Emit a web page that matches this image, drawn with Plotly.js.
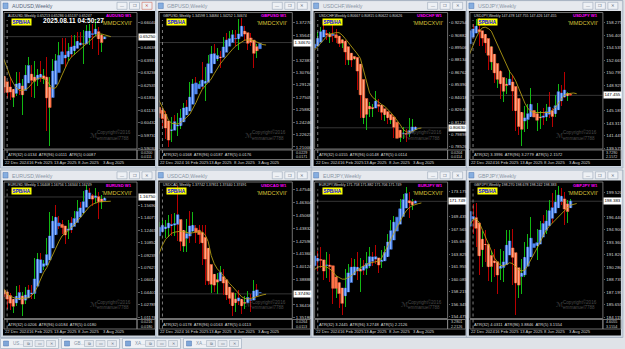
<!DOCTYPE html>
<html><head><meta charset="utf-8">
<script src="https://cdn.plot.ly/plotly-3.0.1.min.js"></script>
<style>html,body{margin:0;padding:0;background:#dfe3e8;overflow:hidden}#chart{width:625px;height:349px}</style>
</head><body><div id="chart"></div><script>
// ---------- categories ----------
const weeks = ["2024-12-15","2024-12-22","2024-12-29","2025-01-05","2025-01-12","2025-01-19","2025-01-26","2025-02-02","2025-02-09","2025-02-16","2025-02-23","2025-03-02","2025-03-09","2025-03-16","2025-03-23","2025-03-30","2025-04-06","2025-04-13","2025-04-20","2025-04-27","2025-05-04","2025-05-11","2025-05-18","2025-05-25","2025-06-01","2025-06-08","2025-06-15","2025-06-22","2025-06-29","2025-07-06","2025-07-13","2025-07-20","2025-07-27","2025-08-03","2025-08-10"];
const maWeeks = ["2024-12-15","2024-12-22","2024-12-29","2025-01-05","2025-01-12","2025-01-19","2025-01-26","2025-02-02","2025-02-09","2025-02-16","2025-02-23","2025-03-02","2025-03-09","2025-03-16","2025-03-23","2025-03-30","2025-04-06","2025-04-13","2025-04-20","2025-04-27","2025-05-04","2025-05-11","2025-05-18","2025-05-25","2025-06-01","2025-06-08","2025-06-15","2025-06-22","2025-06-29","2025-07-06","2025-07-13","2025-07-20","2025-07-27","2025-08-03","2025-08-10","2025-08-17","2025-08-24"];
const dateLabelWeeks = ["2024-12-22","2025-02-16","2025-04-13","2025-06-08","2025-08-03"];
const dateLabels = ["22 Dec 2024","16 Feb 2025","13 Apr 2025","8 Jun 2025","3 Aug 2025"];
const separatorWeek = "2024-12-29";

// ---------- AUDUSD ----------
const audusdOpen  = [0.6365,0.6255,0.6220,0.6215,0.6180,0.6205,0.6310,0.6150,0.6275,0.6355,0.6360,0.6210,0.6320,0.6320,0.6275,0.6285,0.6020,0.6285,0.6385,0.6400,0.6445,0.6410,0.6405,0.6485,0.6435,0.6495,0.6490,0.6450,0.6555,0.6560,0.6585,0.6530,0.6580,0.6465,0.6521];
const audusdHigh  = [0.6380,0.6290,0.6240,0.6300,0.6230,0.6330,0.6330,0.6290,0.6365,0.6409,0.6365,0.6390,0.6345,0.6390,0.6345,0.6409,0.6300,0.6400,0.6430,0.6495,0.6515,0.6515,0.6490,0.6537,0.6535,0.6552,0.6550,0.6560,0.6590,0.6595,0.6595,0.6625,0.6580,0.6540,0.6529];
const audusdLow   = [0.6180,0.6210,0.6180,0.6170,0.6131,0.6195,0.6200,0.6088,0.6240,0.6330,0.6190,0.6185,0.6250,0.6270,0.6260,0.6000,0.5914,0.6260,0.6345,0.6340,0.6390,0.6355,0.6390,0.6410,0.6425,0.6455,0.6470,0.6370,0.6515,0.6480,0.6455,0.6530,0.6420,0.6440,0.6514];
const audusdClose = [0.6255,0.6220,0.6215,0.6180,0.6205,0.6310,0.6215,0.6275,0.6355,0.6360,0.6210,0.6320,0.6320,0.6275,0.6285,0.6040,0.6285,0.6385,0.6400,0.6445,0.6410,0.6405,0.6485,0.6435,0.6495,0.6490,0.6450,0.6555,0.6560,0.6585,0.6530,0.6580,0.6475,0.6525,0.6525];
const audusdMA    = [0.6440,0.6400,0.6350,0.6300,0.6265,0.6240,0.6225,0.6225,0.6230,0.6240,0.6260,0.6280,0.6290,0.6295,0.6290,0.6280,0.6255,0.6235,0.6240,0.6270,0.6310,0.6350,0.6385,0.6410,0.6425,0.6440,0.6455,0.6470,0.6490,0.6505,0.6520,0.6530,0.6540,0.6540,0.6535,0.6530,0.6525];
const audusdTicks = [0.59030,0.59731,0.60432,0.61133,0.61834,0.62535,0.63236,0.63937,0.64638,0.65339,0.66040];

// ---------- GBPUSD ----------
const gbpusdOpen  = [1.2685,1.2570,1.2515,1.2420,1.2205,1.2170,1.2480,1.2330,1.2405,1.2580,1.2630,1.2575,1.2915,1.2935,1.2915,1.2940,1.2890,1.3085,1.3290,1.3310,1.3270,1.3300,1.3280,1.3530,1.3460,1.3570,1.3570,1.3455,1.3715,1.3650,1.3495,1.3440,1.3435,1.3280,1.3460];
const gbpusdHigh  = [1.2700,1.2610,1.2610,1.2575,1.2290,1.2490,1.2520,1.2550,1.2600,1.2670,1.2715,1.2945,1.2990,1.3015,1.2965,1.3207,1.3150,1.3300,1.3425,1.3445,1.3400,1.3360,1.3545,1.3595,1.3615,1.3632,1.3630,1.3770,1.3788,1.3680,1.3530,1.3590,1.3450,1.3450,1.3468];
const gbpusdLow   = [1.2475,1.2475,1.2350,1.2200,1.2100,1.2160,1.2330,1.2250,1.2330,1.2560,1.2560,1.2570,1.2860,1.2890,1.2860,1.2860,1.2708,1.3080,1.3235,1.3260,1.3220,1.3140,1.3275,1.3410,1.3425,1.3500,1.3420,1.3370,1.3565,1.3490,1.3365,1.3420,1.3140,1.3270,1.3425];
const gbpusdClose = [1.2570,1.2515,1.2420,1.2205,1.2170,1.2480,1.2395,1.2405,1.2580,1.2630,1.2575,1.2915,1.2935,1.2915,1.2940,1.2890,1.3085,1.3290,1.3310,1.3270,1.3300,1.3280,1.3530,1.3460,1.3570,1.3570,1.3455,1.3715,1.3650,1.3495,1.3440,1.3435,1.3280,1.3445,1.3467];
const gbpusdMA    = [1.2760,1.2700,1.2620,1.2530,1.2450,1.2410,1.2400,1.2400,1.2420,1.2450,1.2490,1.2530,1.2600,1.2680,1.2770,1.2850,1.2900,1.2940,1.2990,1.3060,1.3130,1.3190,1.3240,1.3290,1.3330,1.3380,1.3420,1.3450,1.3480,1.3500,1.3500,1.3500,1.3490,1.3470,1.3460,1.3440,1.3435];
const gbpusdTicks = [1.21000,1.22623,1.24246,1.25882,1.27505,1.29128,1.30764,1.32387,1.34011,1.35647,1.37270];

// ---------- USDCHF ----------
const usdchfOpen  = [0.8930,0.8960,0.9000,0.9110,0.9160,0.9140,0.9050,0.9110,0.9080,0.9000,0.8980,0.9020,0.8800,0.8845,0.8825,0.8825,0.8610,0.8175,0.8185,0.8280,0.8285,0.8310,0.8340,0.8245,0.8225,0.8225,0.8135,0.8165,0.7970,0.7955,0.7970,0.8035,0.7965,0.8040,0.8066];
const usdchfHigh  = [0.9000,0.9030,0.9120,0.9180,0.9200,0.9150,0.9120,0.9195,0.9160,0.9045,0.9050,0.9030,0.8855,0.8850,0.8855,0.8850,0.8760,0.8245,0.8345,0.8350,0.8330,0.8475,0.8385,0.8320,0.8250,0.8245,0.8200,0.8195,0.7990,0.7990,0.8075,0.8055,0.8170,0.8165,0.8082];
const usdchfLow   = [0.8895,0.8960,0.8975,0.9050,0.9080,0.9030,0.9000,0.9010,0.9000,0.8960,0.8950,0.8760,0.8760,0.8735,0.8810,0.8480,0.8170,0.8100,0.8040,0.8180,0.8180,0.8300,0.8240,0.8150,0.8140,0.8100,0.8110,0.7950,0.7872,0.7910,0.7935,0.7910,0.7960,0.8015,0.8062];
const usdchfClose = [0.8960,0.9000,0.9110,0.9160,0.9140,0.9050,0.9110,0.9080,0.9000,0.8980,0.9020,0.8800,0.8845,0.8825,0.8825,0.8610,0.8175,0.8185,0.8280,0.8285,0.8310,0.8340,0.8245,0.8225,0.8225,0.8135,0.8165,0.7970,0.7955,0.7970,0.8035,0.7965,0.8040,0.8065,0.8063];
const usdchfMA    = [0.8890,0.8920,0.8960,0.9000,0.9040,0.9075,0.9100,0.9110,0.9115,0.9115,0.9090,0.9050,0.9010,0.8970,0.8930,0.8880,0.8830,0.8700,0.8560,0.8450,0.8400,0.8370,0.8340,0.8320,0.8300,0.8270,0.8230,0.8190,0.8150,0.8100,0.8045,0.8020,0.8010,0.8020,0.8040,0.8055,0.8060];
const usdchfTicks = [0.78526,0.79898,0.81270,0.82646,0.84018,0.85390,0.86762,0.88134,0.89506,0.90882,0.92254];

// ---------- USDJPY ----------
const usdjpyOpen  = [153.6,156.4,157.8,157.3,157.7,156.3,156.0,155.2,151.4,152.3,149.3,150.6,148.0,148.6,149.3,149.8,146.9,143.5,142.2,143.6,144.9,145.4,145.7,142.6,144.0,144.9,144.1,146.1,144.6,144.5,147.4,148.6,147.6,147.4,147.478];
const usdjpyHigh  = [157.9,158.1,158.0,158.88,158.9,156.8,156.3,155.9,154.8,152.4,150.9,151.3,149.2,150.1,151.2,150.5,148.3,144.0,143.9,145.9,146.2,148.6,146.2,146.3,145.2,145.5,146.2,148.0,145.5,147.5,149.2,149.0,150.9,148.0,147.755];
const usdjpyLow   = [153.3,156.0,156.2,157.0,154.8,154.8,153.7,151.2,151.3,149.3,148.6,146.9,146.5,147.7,149.1,145.2,142.1,141.6,139.88,142.0,142.4,144.7,142.4,142.1,142.4,143.0,143.7,144.1,142.7,144.2,146.8,145.9,147.0,146.6,147.426];
const usdjpyClose = [156.4,157.8,157.3,157.7,156.3,156.0,155.2,151.4,152.3,149.3,150.6,148.0,148.6,149.3,149.8,146.9,143.5,142.2,143.6,144.9,145.4,145.7,142.6,144.0,144.9,144.1,146.1,144.6,144.5,147.4,148.6,147.6,147.4,147.7,147.455];
const usdjpyMA    = [152.6,153.8,155.0,156.0,156.9,157.5,157.6,157.4,157.0,156.0,155.0,154.0,152.9,152.0,151.0,150.4,149.6,148.5,147.4,146.3,145.5,145.1,144.9,144.9,144.9,144.8,144.8,144.9,145.2,145.6,146.3,147.0,147.5,147.7,147.8,147.8,147.7];
const usdjpyTicks = [139.575,141.445,143.315,145.185,147.055,148.925,150.795,152.665,154.535,156.405,158.275];

// ---------- EURUSD ----------
const eurusdOpen  = [1.0500,1.0430,1.0425,1.0310,1.0245,1.0270,1.0495,1.0245,1.0330,1.0490,1.0460,1.0375,1.0835,1.0880,1.0815,1.0830,1.0960,1.1360,1.1395,1.1365,1.1300,1.1250,1.1165,1.1365,1.1350,1.1395,1.1550,1.1520,1.1720,1.1780,1.1690,1.1625,1.1740,1.1590,1.1641];
const eurusdHigh  = [1.0630,1.0445,1.0455,1.0435,1.0350,1.0520,1.0530,1.0440,1.0515,1.0530,1.0530,1.0885,1.0947,1.0955,1.0860,1.1145,1.1475,1.1425,1.1573,1.1425,1.1380,1.1265,1.1375,1.1420,1.1495,1.1630,1.1615,1.1755,1.1830,1.1790,1.1720,1.1790,1.1745,1.1700,1.1676];
const eurusdLow   = [1.0345,1.0375,1.0225,1.0215,1.0178,1.0265,1.0360,1.0141,1.0285,1.0400,1.0360,1.0360,1.0805,1.0795,1.0735,1.0780,1.0880,1.1265,1.1310,1.1265,1.1195,1.1065,1.1135,1.1210,1.1345,1.1370,1.1445,1.1455,1.1715,1.1650,1.1555,1.1600,1.1390,1.1525,1.1634];
const eurusdClose = [1.0430,1.0425,1.0310,1.0245,1.0270,1.0495,1.0365,1.0330,1.0490,1.0460,1.0375,1.0835,1.0880,1.0815,1.0830,1.0960,1.1360,1.1395,1.1365,1.1300,1.1250,1.1165,1.1365,1.1350,1.1395,1.1550,1.1520,1.1720,1.1780,1.1690,1.1625,1.1740,1.1590,1.1640,1.1675];
const eurusdMA    = [1.0540,1.0480,1.0420,1.0390,1.0370,1.0360,1.0360,1.0365,1.0370,1.0370,1.0400,1.0440,1.0520,1.0620,1.0700,1.0760,1.0850,1.0940,1.1030,1.1100,1.1170,1.1200,1.1240,1.1280,1.1310,1.1360,1.1410,1.1460,1.1510,1.1550,1.1580,1.1600,1.1610,1.1615,1.1615,1.1615,1.1620];
const eurusdTicks = [1.01176,1.02789,1.04401,1.06014,1.07627,1.09239,1.10852,1.12465,1.14077,1.15690,1.17303];

// ---------- USDCAD ----------
const usdcadOpen  = [1.4235,1.4365,1.4410,1.4410,1.4415,1.4495,1.4350,1.4700,1.4300,1.4185,1.4235,1.4465,1.4370,1.4385,1.4335,1.4305,1.4225,1.3870,1.3840,1.3865,1.3810,1.3935,1.3960,1.3735,1.3730,1.3680,1.3595,1.3735,1.3675,1.3625,1.3680,1.3740,1.3705,1.3830,1.3774];
const usdcadHigh  = [1.4465,1.4440,1.4460,1.4465,1.4515,1.4520,1.4530,1.4793,1.4380,1.4275,1.4470,1.4545,1.4540,1.4415,1.4415,1.4415,1.4415,1.3960,1.3905,1.3895,1.3955,1.4015,1.3990,1.3815,1.3765,1.3730,1.3755,1.3790,1.3685,1.3730,1.3775,1.3745,1.3880,1.3845,1.3781];
const usdcadLow   = [1.4220,1.4350,1.4360,1.4290,1.4300,1.4310,1.4305,1.4260,1.4160,1.4150,1.4150,1.4240,1.4345,1.4240,1.4235,1.4030,1.3835,1.3830,1.3760,1.3765,1.3750,1.3915,1.3735,1.3685,1.3650,1.3540,1.3575,1.3640,1.3555,1.3600,1.3660,1.3575,1.3690,1.3720,1.3744];
const usdcadClose = [1.4365,1.4410,1.4410,1.4415,1.4495,1.4350,1.4525,1.4300,1.4185,1.4235,1.4465,1.4370,1.4385,1.4335,1.4305,1.4225,1.3870,1.3840,1.3865,1.3810,1.3935,1.3960,1.3735,1.3730,1.3680,1.3595,1.3735,1.3675,1.3625,1.3680,1.3740,1.3705,1.3830,1.3755,1.3749];
const usdcadMA    = [1.4070,1.4150,1.4220,1.4275,1.4310,1.4335,1.4345,1.4350,1.4355,1.4350,1.4345,1.4335,1.4340,1.4345,1.4350,1.4345,1.4320,1.4255,1.4120,1.4040,1.3990,1.3960,1.3920,1.3880,1.3850,1.3820,1.3790,1.3750,1.3720,1.3705,1.3700,1.3705,1.3715,1.3725,1.3735,1.3740,1.3745];
const usdcadTicks = [1.35180,1.36416,1.37652,1.38888,1.40124,1.41360,1.42596,1.43832,1.45068,1.46304,1.47540];

// ---------- EURJPY ----------
const eurjpyOpen  = [161.0,163.1,164.0,163.2,161.8,160.9,163.6,160.0,157.6,159.5,156.8,156.5,161.0,161.8,161.5,162.3,161.0,162.8,161.6,163.2,163.9,163.6,162.7,162.0,163.5,165.1,166.4,168.1,169.4,169.5,171.9,172.6,173.1,170.6,171.758];
const eurjpyHigh  = [164.1,164.5,164.3,164.9,162.7,164.1,163.9,160.9,160.6,159.7,157.8,161.6,162.4,163.2,163.1,164.2,163.2,163.0,164.2,164.9,164.2,165.2,163.2,164.5,165.1,166.8,169.0,169.6,170.6,172.1,172.9,173.9,173.2,172.1,171.882];
const eurjpyLow   = [160.6,162.7,161.3,161.8,159.9,160.3,159.6,156.4,157.2,155.8,154.8,155.9,158.9,161.0,160.8,159.9,158.2,160.7,160.7,161.8,162.0,162.3,161.0,161.7,162.8,164.3,165.9,167.4,168.0,169.0,170.6,172.0,169.3,170.4,171.706];
const eurjpyClose = [163.1,164.0,163.2,161.8,160.9,163.6,160.9,157.6,159.5,156.8,156.5,161.0,161.8,161.5,162.3,161.0,162.8,161.6,163.2,163.9,163.6,162.7,162.0,163.5,165.1,166.4,168.1,169.4,169.5,171.9,172.6,173.1,170.6,171.9,171.749];
const eurjpyMA    = [161.2,161.6,161.9,162.0,162.0,161.9,161.6,161.2,160.6,160.3,160.1,160.1,160.3,160.6,161.0,161.5,161.8,162.1,162.3,162.5,162.6,162.7,162.8,163.3,164.1,165.1,166.1,167.0,167.9,168.8,169.6,170.3,170.8,171.1,171.3,171.4,171.5];
const eurjpyTicks = [154.475,156.345,158.215,160.085,161.955,163.825,165.695,167.565,169.435,171.305,173.175];

// ---------- GBPJPY ----------
const gbpjpyOpen  = [193.7,196.7,197.5,196.2,193.0,190.5,194.2,191.0,188.8,191.9,189.9,189.5,190.7,192.2,193.0,193.6,189.4,187.9,188.7,191.0,192.3,193.3,193.5,192.9,194.0,195.9,195.4,196.6,198.1,197.1,199.1,199.4,198.6,196.1,198.270];
const gbpjpyHigh  = [198.0,198.3,198.0,198.2,193.9,194.7,194.8,193.0,192.3,192.5,190.8,192.5,192.3,194.8,194.8,194.9,191.6,189.2,191.3,193.4,194.3,196.4,194.1,195.0,195.9,196.7,197.3,198.5,199.4,199.8,200.2,200.0,199.5,198.5,198.678];
const gbpjpyLow   = [193.3,196.0,194.3,192.8,189.3,190.3,190.9,188.5,188.4,189.0,187.0,188.7,188.4,191.8,192.5,188.0,184.4,186.4,187.0,189.1,191.0,192.1,192.1,191.2,193.5,194.5,194.4,195.6,195.7,197.0,197.8,197.9,195.5,195.7,198.242];
const gbpjpyClose = [196.7,197.5,196.2,193.0,190.5,194.2,192.3,188.8,191.9,189.9,189.5,190.7,192.2,193.0,193.6,189.4,187.9,188.7,191.0,192.3,193.3,193.5,192.9,194.0,195.9,195.4,196.6,198.1,197.1,199.1,199.4,198.6,196.1,198.2,198.383];
const gbpjpyMA    = [194.5,195.5,196.1,196.2,195.8,194.9,194.0,193.0,192.2,191.4,190.9,190.5,190.4,190.6,190.8,190.7,190.3,189.9,189.8,189.9,190.5,191.2,191.8,192.5,193.3,194.1,194.8,195.3,195.7,196.0,196.4,196.9,197.3,197.6,197.9,198.0,198.1];
const gbpjpyTicks = [184.115,185.655,187.195,188.735,190.280,191.820,193.360,194.900,196.440,197.980,199.520];

// ---------- texts ----------
const symbols = ["AUDUSD","GBPUSD","USDCHF","USDJPY","EURUSD","USDCAD","EURJPY","GBPJPY"];
const headerPrices = ["0.65213 0.65286 0.65137 0.65247","1.34598 1.34684 1.34252 1.34674","0.80667 0.80815 0.80622 0.80626","147.478 147.755 147.426 147.455","1.16408 1.16756 1.16344 1.16749","1.37742 1.37811 1.37440 1.37491","171.758 171.882 171.706 171.749","198.270 198.678 198.242 198.383"];
const atrTexts = ["ATR(32) 0.0134  ATR(96) 0.0111  ATR(5) 0.0087","ATR(32) 0.0168  ATR(96) 0.0187  ATR(5) 0.0176","ATR(32) 0.0155  ATR(96) 0.0148  ATR(5) 0.0114","ATR(32) 3.3996  ATR(96) 3.2779  ATR(5) 2.1572","ATR(32) 0.0206  ATR(96) 0.0184  ATR(5) 0.0180","ATR(32) 0.0178  ATR(96) 0.0163  ATR(5) 0.0113","ATR(32) 3.2445  ATR(96) 3.2748  ATR(5) 2.2126","ATR(32) 4.0311  ATR(96) 3.8846  ATR(5) 3.1554"];
const atrScale = [["0.0200","0.0111"],["0.0229","0.0171"],["0.0204","0.0114"],["3.7290","2.1572"],["0.0216","0.0180"],["0.0264","0.0113"],["3.2801","2.2126"],["4.6055","3.1554"]];
const labelW1 = "W1";
const quoteText = "'MMDCXVII'";
const badgeText = "SPB/HA";
const clockText = "2025.08.11 04:50:27";
const wmLine1 = "Copyright©2016";
const wmLine2 = "emmanuel7788";
const tabTexts = ["US...","GB...","XA...","XA..."];

// ---------- panels (built from the arrays above) ----------
const panels = [
 {o:audusdOpen,h:audusdHigh,l:audusdLow,c:audusdClose,ma:audusdMA,ticks:audusdTicks,range:[0.59002,0.66571],dec:5},
 {o:gbpusdOpen,h:gbpusdHigh,l:gbpusdLow,c:gbpusdClose,ma:gbpusdMA,ticks:gbpusdTicks,range:[1.2080,1.3854],dec:5},
 {o:usdchfOpen,h:usdchfHigh,l:usdchfLow,c:usdchfClose,ma:usdchfMA,ticks:usdchfTicks,range:[0.78339,0.93327],dec:5},
 {o:usdjpyOpen,h:usdjpyHigh,l:usdjpyLow,c:usdjpyClose,ma:usdjpyMA,ticks:usdjpyTicks,range:[139.545,159.709],dec:3},
 {o:eurusdOpen,h:eurusdHigh,l:eurusdLow,c:eurusdClose,ma:eurusdMA,ticks:eurusdTicks,range:[1.01086,1.18624],dec:5},
 {o:usdcadOpen,h:usdcadHigh,l:usdcadLow,c:usdcadClose,ma:usdcadMA,ticks:usdcadTicks,range:[1.35158,1.48250],dec:5},
 {o:eurjpyOpen,h:eurjpyHigh,l:eurjpyLow,c:eurjpyClose,ma:eurjpyMA,ticks:eurjpyTicks,range:[154.28,174.565],dec:3},
 {o:gbpjpyOpen,h:gbpjpyHigh,l:gbpjpyLow,c:gbpjpyClose,ma:gbpjpyMA,ticks:gbpjpyTicks,range:[183.992,200.691],dec:3}
];

const W = 625, H = 349;
const colX = [0, 155.3, 310.6, 465.9];
const rowY = [0, 169.5];
const FONT = 'Liberation Sans, DejaVu Sans, sans-serif';
const traces = [], shapes = [], annotations = [];

function rect(x0,y0,x1,y1,fill,line,lw,layer){
  shapes.push({type:'rect',xref:'paper',yref:'paper',x0:x0/W,x1:x1/W,y0:1-y1/H,y1:1-y0/H,
    fillcolor:fill,line:{color:line||'rgba(0,0,0,0)',width:lw||0},layer:layer||'below'});
}
function txt(x,y,t,size,color,opts){
  annotations.push(Object.assign({xref:'paper',yref:'paper',x:x/W,y:1-y/H,text:t,showarrow:false,
    xanchor:'left',yanchor:'middle',font:{family:FONT,size:size,color:color}},opts||{}));
}

// desktop background + bottom tabs
rect(0,0,W,H,'#dfe3e8');
for (let t=0;t<4;t++){
  const tx = [0.5,61.5,122.5,183.5][t];
  rect(tx,338.5,tx+58,348.5,'#eef1f5','#a9b6c6',0.8);
  rect(tx+3,341,tx+8,346,'#7fa6d8','#4f77b0',0.5);
  txt(tx+10,343.6,tabTexts[t],4.6,'#8795a8');
  for (let b=0;b<3;b++){ rect(tx+23+b*11.5,340.5,tx+32+b*11.5,346.5,'#e4e8ee','#9aa8b8',0.5); }
  txt(tx+27.5,343.5,'⧉',4,'#6a7788',{xanchor:'center'});
  txt(tx+39,343.5,'▭',4,'#6a7788',{xanchor:'center'});
  txt(tx+50.5,343.5,'✕',4,'#6a7788',{xanchor:'center'});
}

const layout = {width:W,height:H,margin:{l:0,r:0,t:0,b:0,pad:0},paper_bgcolor:'#dfe3e8',
  plot_bgcolor:'rgba(0,0,0,0)',showlegend:false,barmode:'overlay',bargap:0,
  font:{family:FONT,size:5,color:'#d0d0d0'},shapes:shapes,annotations:annotations,hovermode:false};

const XRANGE = [0.97, 44.6];
panels.forEach((p,k)=>{
  const c = k%4, r = Math.floor(k/4);
  const wx = colX[c], wy = rowY[r];
  const ax = k===0 ? '' : String(k+1);
  const xa = 'x'+ax, ya = 'y'+ax;
  const sym = symbols[k];

  // window chrome
  rect(wx+0.5,wy+0.5,wx+157,wy+168,'#cdd5df','#9eabbb',0.8);
  rect(wx+1.5,wy+1.2,wx+156,wy+10.8, k===0?'#e9edf3':'#e6e9ee');
  rect(wx+3,wy+3,wx+8,wy+8.5,'#86aee0','#4f77b0',0.5);
  txt(wx+10,wy+6,sym+',Weekly',5.2,k===0?'#55657a':'#8a96a6');
  const bcol = ['#9aa8b8','#9aa8b8',k===0?'#d07060':'#9aa8b8'];
  for (let b=0;b<3;b++){ rect(wx+117+b*12.5,wy+2.3,wx+127+b*12.5,wy+9.3,'#eef1f5',bcol[b],0.6); }
  txt(wx+122,wy+5.8,'—',4,'#5a6678',{xanchor:'center'});
  txt(wx+134.5,wy+5.8,'❐',4,'#5a6678',{xanchor:'center'});
  txt(wx+147,wy+5.8,'✕',4.2,k===0?'#c04030':'#5a6678',{xanchor:'center'});
  // black chart area
  rect(wx+3,wy+11,wx+155,wy+166,'#000000');
  // frames
  rect(wx+4,wy+12.5,wx+137,wy+149,'rgba(0,0,0,0)','#8c8c8c',0.8,'above');
  rect(wx+4,wy+150,wx+137,wy+159.5,'rgba(0,0,0,0)','#8c8c8c',0.8,'above');
  rect(wx+137,wy+150,wx+155,wy+159.5,'rgba(0,0,0,0)','#8c8c8c',0.8,'above');

  const last = p.c[p.c.length-1];
  const plotPx = 135.5, ppu = plotPx/(p.range[1]-p.range[0]);
  const shownTicks = p.ticks.filter(t=>Math.abs(t-last)*ppu > 5.5);

  layout['xaxis'+ax] = {domain:[(wx+4)/W,(wx+137)/W],anchor:ya,type:'category',categoryorder:'array',
    categoryarray:maWeeks,range:XRANGE,showgrid:false,zeroline:false,showticklabels:false,
    ticks:'',showline:false,fixedrange:true};
  layout['yaxis'+ax] = {domain:[1-(wy+148.5)/H,1-(wy+13)/H],anchor:xa,side:'right',range:p.range,
    tickvals:shownTicks,tickformat:'.'+p.dec+'f',showgrid:false,zeroline:false,ticks:'outside',ticklen:1.5,
    tickwidth:0.6,tickcolor:'#9a9a9a',showline:false,tickfont:{family:FONT,size:4.4,color:'#d6d6d6'},fixedrange:true};

  // real candle range lines (wicks)
  const up = p.c.map((v,i)=>v>=p.o[i]);
  traces.push({type:'bar',x:weeks,base:p.l,y:p.h.map((v,i)=>v-p.l[i]),width:0.32,
    marker:{color:up.map(u=>u?'#12b812':'#b80000'),line:{width:0}},xaxis:xa,yaxis:ya,hoverinfo:'skip'});
  // Heiken Ashi bodies computed from OHLC
  const haC=[], haO=[];
  p.o.forEach((o,i)=>{
    haC[i]=(o+p.h[i]+p.l[i]+p.c[i])/4;
    haO[i]= i===0 ? (o+p.c[i])/2 : (haO[i-1]+haC[i-1])/2;
  });
  const haUp = haC.map((v,i)=>v>=haO[i]);
  const bodyCol = haUp.map(u=>u?'#4f86ee':'#ff7448');
  traces.push({type:'bar',x:weeks,base:haO.map((v,i)=>Math.min(v,haC[i])),y:haO.map((v,i)=>Math.abs(haC[i]-v)),
    width:0.86,marker:{color:bodyCol,line:{width:0.5,color:bodyCol}},xaxis:xa,yaxis:ya,hoverinfo:'skip'});
  traces.push({type:'bar',x:weeks,base:haO.map((v,i)=>Math.min(v,haC[i])),y:haO.map((v,i)=>Math.abs(haC[i]-v)),
    width:0.3,marker:{color:haUp.map(u=>u?'#8db6ff':'#ffa585'),line:{width:0}},xaxis:xa,yaxis:ya,hoverinfo:'skip'});
  // moving average
  traces.push({type:'scatter',mode:'lines',x:maWeeks,y:p.ma,line:{color:'#b9a214',width:0.85},
    xaxis:xa,yaxis:ya,hoverinfo:'skip'});

  // bid line
  shapes.push({type:'line',xref:'paper',yref:ya,x0:(wx+4)/W,x1:(wx+137)/W,y0:last,y1:last,
    line:{color:'#5a5a5a',width:0.6},layer:'below'});
  // period separator
  shapes.push({type:'line',xref:xa,yref:'paper',x0:separatorWeek,x1:separatorWeek,
    y0:1-(wy+159)/H,y1:1-(wy+20)/H,line:{color:'#b0b0b0',width:0.7,dash:'dot'},layer:'above'});
  // current price box
  annotations.push({xref:'paper',yref:ya,x:(wx+137.5)/W,y:last,text:last.toFixed(p.dec),showarrow:false,
    xanchor:'left',yanchor:'middle',bgcolor:'#ffffff',borderpad:0.4,font:{family:FONT,size:4.4,color:'#000000'}});

  // texts in chart
  txt(wx+6,wy+15.8,sym+',Weekly '+headerPrices[k],3.6,'#d8d8d8');
  annotations.push({xref:'paper',yref:'paper',x:(wx+11)/W,y:1-(wy+21.6)/H,text:'<b>'+badgeText+'</b>',
    showarrow:false,xanchor:'left',yanchor:'middle',bgcolor:'#ffff00',borderpad:0.6,
    font:{family:FONT,size:4.6,color:'#0000ff'}});
  txt(wx+134,wy+15.6,'<b>'+sym+' '+labelW1+'</b>',4.2,'#ff00ff',{xanchor:'right'});
  txt(wx+134,wy+23.3,quoteText,5.6,'#d6c23a',{xanchor:'right'});
  if (k===0) txt(wx+73,wy+20.3,'<b>'+clockText+'</b>',6.6,'#ffffff',{xanchor:'center'});
  txt(wx+95,wy+132,wmLine1,4.6,'#4a4a4a');
  txt(wx+95,wy+138,wmLine2,4.6,'#4a4a4a');
  txt(wx+88,wy+135,'ℳ',7,'#4a4a4a');
  // indicator
  txt(wx+6,wy+154.8,atrTexts[k],4.1,'#d8d8d8');
  txt(wx+138.5,wy+152.6,atrScale[k][0],3.7,'#d0d0d0');
  txt(wx+138.5,wy+157.2,atrScale[k][1],3.7,'#d0d0d0');
  // date labels
  dateLabelWeeks.forEach((d,j)=>{
    annotations.push({xref:xa,yref:'paper',x:d,y:1-(wy+162.3)/H,text:dateLabels[j],showarrow:false,
      xanchor:'left',yanchor:'middle',xshift:-1,font:{family:FONT,size:4.2,color:'#d0d0d0'}});
  });
});

Plotly.newPlot('chart',traces,layout,{staticPlot:true,displayModeBar:false});
</script></body></html>
